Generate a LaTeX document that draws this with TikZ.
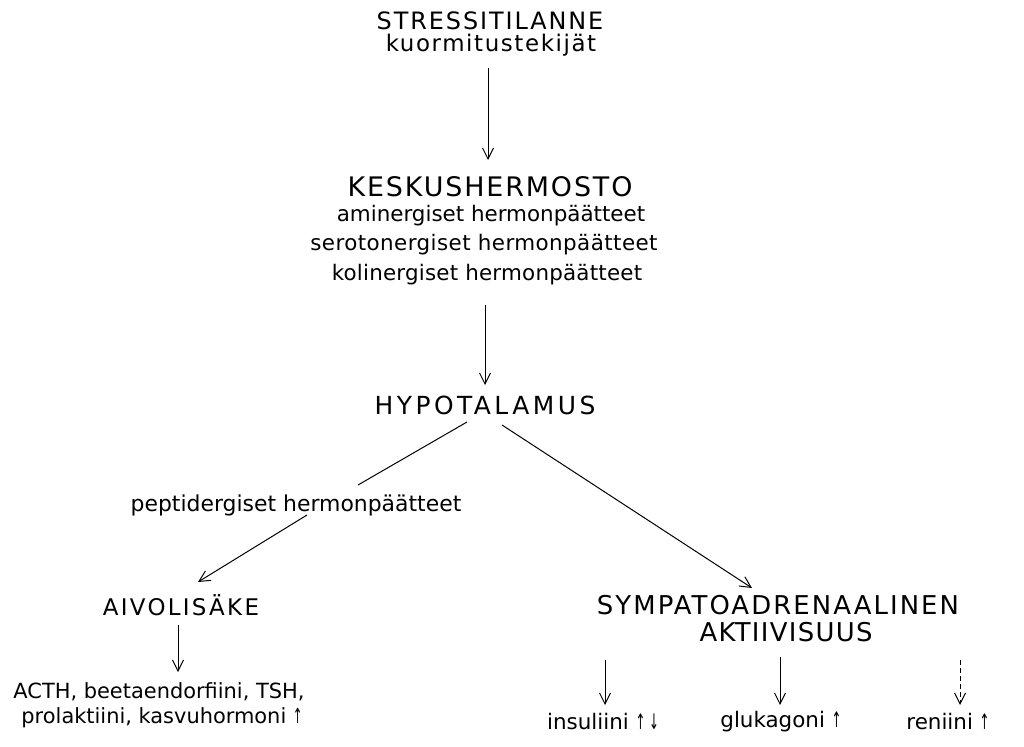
\documentclass[tikz,border=0pt]{standalone}
\usepackage{fontspec}
\usepackage{graphicx}
\setmainfont{DejaVu Sans}
\usetikzlibrary{arrows.meta,calc}
\newcommand{\uparr}{\scalebox{0.55}[1]{\char"2191}}
\newcommand{\dnarr}{\scalebox{0.55}[1]{\char"2193}}
\begin{document}
\begin{tikzpicture}[x=1bp,y=-1bp,
  lbl/.style={inner sep=0pt, outer sep=0pt, anchor=center, align=center, text=black},
  lt/.style n args={2}{lbl, font=\fontsize{#1}{#1}\selectfont\addfontfeatures{LetterSpace=#2}},
  conn/.style={draw=black, line width=1bp},
  arr/.style={conn, -{Straight Barb[length=11bp,width=11bp,line width=1bp]}},
  darr/.style={arr, dash pattern=on 5bp off 3bp}]
\useasboundingbox (0,0) rectangle (1024,747);
\fill[white] (0,0) rectangle (1024,747);

\node[lt={24}{8}, anchor=base] (stress) at (490,30) {STRESSITILANNE};
\node[lt={23}{7}, anchor=base] (kuorm)  at (491,52) {kuormitustekijät};
\node[lt={27}{7}]    (kesk)   at (490,187) {KESKUSHERMOSTO};
\node[lt={21.5}{0}]  (amin)   at (491,216) {aminergiset hermonpäätteet};
\node[lt={21.5}{2}]  (sero)   at (484,245) {serotonergiset hermonpäätteet};
\node[lt={21.5}{1}]  (koli)   at (487,275) {kolinergiset hermonpäätteet};
\node[lt={25}{14}]   (hypo)   at (485,405) {HYPOTALAMUS};
\node[lt={22}{0}]    (pept)   at (296,505) {peptidergiset hermonpäätteet};
\node[lt={23}{10}]   (aivo)   at (181,605) {AIVOLISÄKE};
\node[lt={21}{0}]    (acth)   at (159,692) {ACTH, beetaendorfiini, TSH,};
\node[lt={21}{0}]    (prol)   at (162,718) {prolaktiini, kasvuhormoni \uparr};
\node[lt={26}{8}]    (symp)   at (778,605) {SYMPATOADRENAALINEN};
\node[lt={26}{5}]    (akt)    at (786,632) {AKTIIVISUUS};
\node[lt={21.5}{0}]  (ins)    at (603,722) {insuliini \uparr\,\dnarr};
\node[lt={21.5}{0}]  (glu)    at (781,722) {glukagoni \uparr};
\node[lt={21.5}{0}]  (ren)    at (948,722) {reniini \uparr};

\draw[arr]  ($(kuorm.base)+(-3,16)$) -- ($(kesk)+(-2,-27)$);
\draw[arr]  ($(koli)+(-2,30)$)    -- ($(hypo)+(0,-20)$);
\draw[conn] ($(hypo)+(-18,17)$)   -- ($(pept)+(62,-20)$);
\draw[arr]  ($(pept)+(11,10)$)    -- ($(aivo)+(17,-23)$);
\draw[arr]  ($(hypo)+(17,20)$)    -- ($(symp)+(-26,-17)$);
\draw[arr]  ($(aivo)+(-3,20)$)    -- ($(acth)+(19,-20)$);
\draw[arr]  ($(akt)+(-181,28)$)   -- ($(ins)+(2,-17)$);
\draw[arr]  ($(akt)+(-6,25)$)     -- ($(glu)+(-1,-17)$);
\draw[darr] ($(akt)+(174,28)$)    -- ($(ren)+(12,-17)$);
\end{tikzpicture}
\end{document}
